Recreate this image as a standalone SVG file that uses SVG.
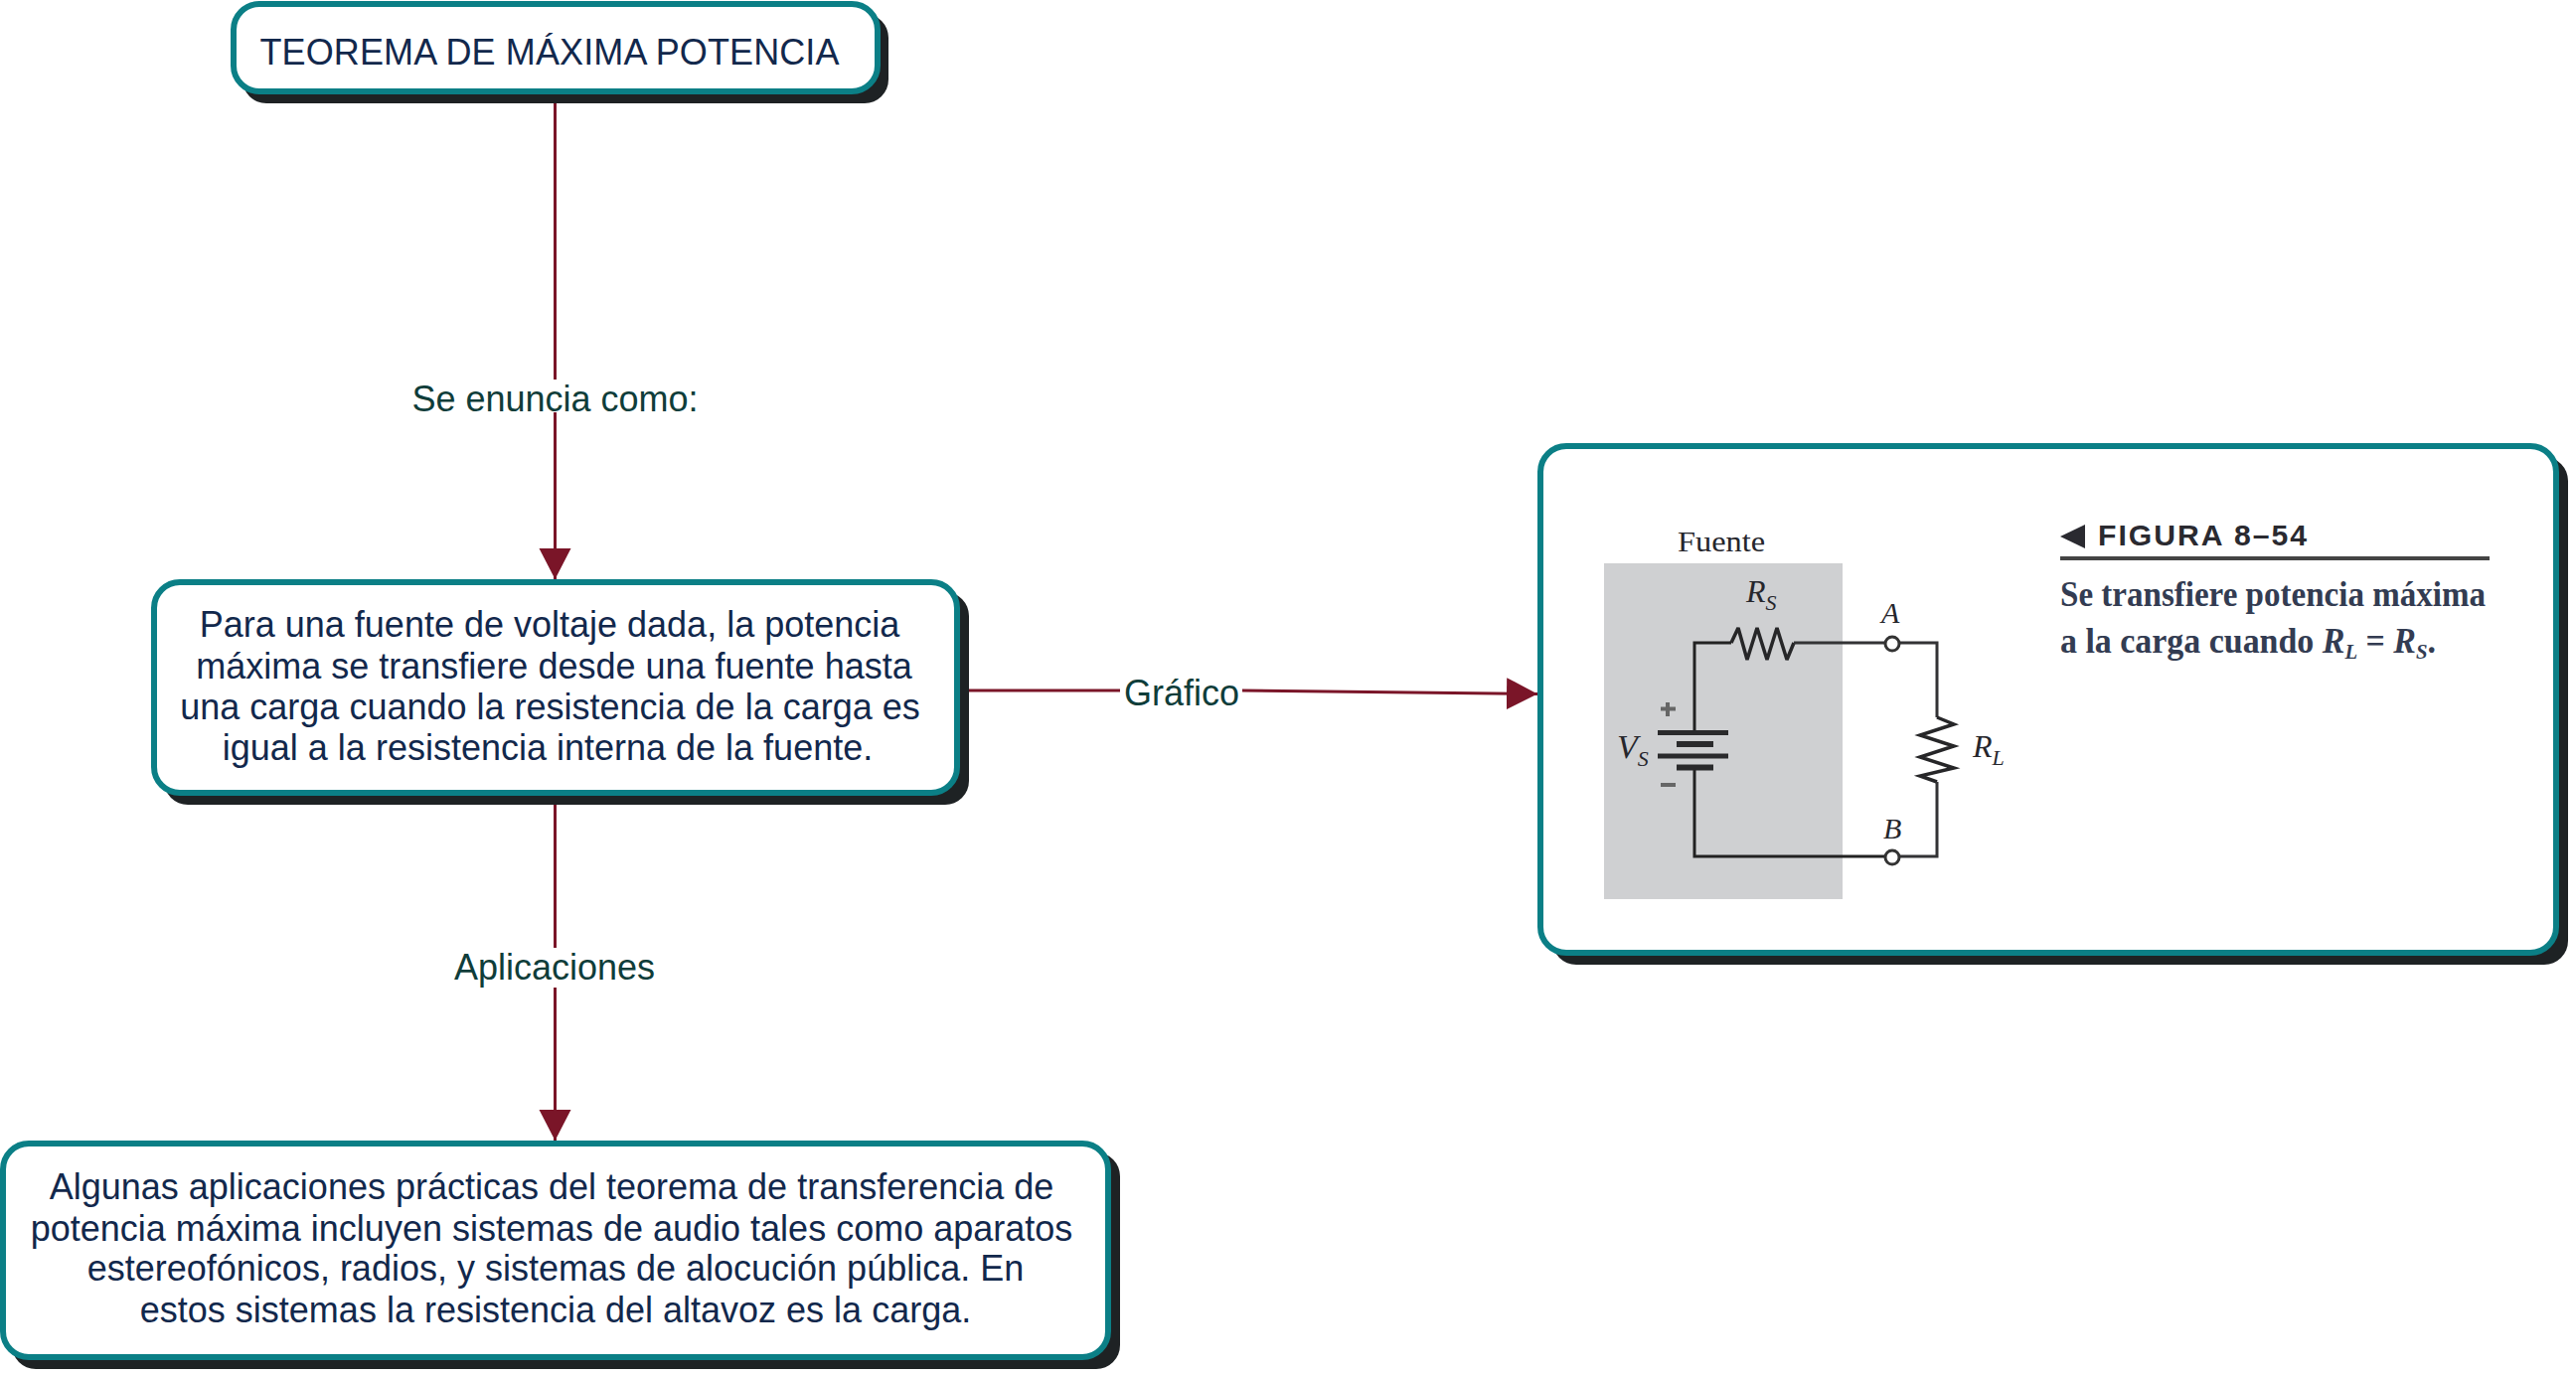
<svg xmlns="http://www.w3.org/2000/svg" width="2592" height="1385" viewBox="0 0 2592 1385">
<style>
.shadow{fill:#1e2224}
.box{fill:#fff;stroke:#0b7f86;stroke-width:6}
.t{font-family:"Liberation Sans",Arial,sans-serif;font-size:36px;fill:#12284c;text-anchor:middle}
.l{font-family:"Liberation Sans",Arial,sans-serif;font-size:36px;fill:#0f3d3a;text-anchor:middle}
.conn{fill:none;stroke:#7a1528;stroke-width:3}
.w{fill:none;stroke:#333335;stroke-width:3}
.wk{fill:none;stroke:#222;stroke-width:3}
.z{fill:none;stroke:#262628;stroke-width:3.500}
.bat{stroke:#2a2a2c;fill:none}
.s{font-family:"Liberation Serif","Times New Roman",serif;fill:#333c52}
.i{font-style:italic}
.c{font-family:"Liberation Serif","Times New Roman",serif;fill:#26262c;font-size:38px}
</style>
<defs>
<marker id="arrow" markerUnits="userSpaceOnUse" markerWidth="33" markerHeight="34" refX="31" refY="16" orient="auto"><path d="M0 0L31 16L0 32Z" fill="#7a1528"/></marker>
</defs>
<g id="connectors">
<path class="conn" d="M558.500 104V382"/>
<path class="conn" d="M558.500 415V583" marker-end="url(#arrow)"/>
<path class="conn" d="M558.500 810V954"/>
<path class="conn" d="M558.500 994V1148" marker-end="url(#arrow)"/>
<path class="conn" d="M975 695H1127"/>
<path class="conn" d="M1250 695L1547 698.500" marker-end="url(#arrow)"/>
<text class="l" x="558.500" y="413.500">Se enuncia como:</text>
<text class="l" x="558" y="985.500">Aplicaciones</text>
<text class="l" x="1189" y="709.500">Gráfico</text>
</g>
<g id="node-titulo">
<rect class="shadow" x="244" y="14" width="650" height="90" rx="24"/>
<rect class="box" x="235" y="4" width="648" height="88" rx="26"/>
<text class="t" x="553" y="65" textLength="583" lengthAdjust="spacing">TEOREMA DE MÁXIMA POTENCIA</text>
</g>
<g id="node-enunciado">
<rect class="shadow" x="165" y="596" width="810" height="214" rx="24"/>
<rect class="box" x="155" y="586" width="808" height="212" rx="26"/>
<text class="t" x="553" y="641">Para una fuente de voltaje dada, la potencia</text>
<text class="t" x="557.500" y="683">máxima se transfiere desde una fuente hasta</text>
<text class="t" x="553.500" y="724">una carga cuando la resistencia de la carga es</text>
<text class="t" x="551" y="765">igual a la resistencia interna de la fuente.</text>
</g>
<g id="node-aplicaciones">
<rect class="shadow" x="12" y="1160" width="1115" height="218" rx="24"/>
<rect class="box" x="3" y="1151" width="1112" height="215" rx="26"/>
<text class="t" x="555" y="1207">Algunas aplicaciones prácticas del teorema de transferencia de</text>
<text class="t" x="555" y="1249">potencia máxima incluyen sistemas de audio tales como aparatos</text>
<text class="t" x="559" y="1289">estereofónicos, radios, y sistemas de alocución pública. En</text>
<text class="t" x="559" y="1331">estos sistemas la resistencia del altavoz es la carga.</text>
</g>
<g id="node-grafico">
<rect class="shadow" x="1562" y="460" width="1022" height="511" rx="24"/>
<rect class="box" x="1550" y="449" width="1022" height="510" rx="26"/>
<rect x="1614" y="567" width="240" height="338" fill="#cfd0d2"/>
<path class="wk" d="M1705 737V647H1742"/>
<path class="z" stroke-linejoin="bevel" d="M1742 647L1749 632L1758 664L1768 632L1778 664L1788 632L1798 664L1805 647"/>
<path class="w" d="M1805 647H1897M1911 647H1949V722"/>
<path class="z" d="M1949 722L1966 729L1932 740L1966 751L1932 762L1966 773L1932 781L1949 787"/>
<path class="w" d="M1949 787V862H1911"/>
<path class="wk" d="M1705 772V862H1897"/>
<circle cx="1904" cy="648" r="7" fill="#fff" stroke="#333" stroke-width="3"/>
<circle cx="1904" cy="863" r="7" fill="#fff" stroke="#333" stroke-width="3"/>
<path class="bat" stroke-width="5" d="M1668 737.500H1739M1668 761H1739"/>
<path class="bat" stroke-width="6" d="M1687 749H1724M1687 772.500H1724"/>
<path d="M1678 707V721M1671 713.500H1686M1671 790H1686" stroke="#666" stroke-width="4" fill="none"/>
<text class="c" x="1688" y="555" textLength="88" lengthAdjust="spacingAndGlyphs" style="font-size:30px">Fuente</text>
<text class="c i" x="1757" y="606" style="font-size:32px">R<tspan dy="8" style="font-size:22px">S</tspan></text>
<text class="c i" x="1893" y="627" style="font-size:30px">A</text>
<text class="c i" x="1895" y="844" style="font-size:30px">B</text>
<text class="c i" x="1627" y="763" style="font-size:34px">V<tspan dy="8" style="font-size:22px">S</tspan></text>
<text class="c i" x="1985" y="762" style="font-size:32px">R<tspan dy="8" style="font-size:22px">L</tspan></text>
<path d="M2098 528V552L2073 540Z" fill="#2a2a30"/>
<text x="2111" y="549" textLength="212" lengthAdjust="spacingAndGlyphs" style="font-family:'Liberation Sans',sans-serif;font-weight:700;font-size:30px;letter-spacing:2px;fill:#2a2a30">FIGURA 8–54</text>
<rect x="2073" y="560" width="432" height="4" fill="#444"/>
<text class="s" x="2073" y="610" textLength="428" lengthAdjust="spacingAndGlyphs" style="font-size:36px;font-weight:700">Se transfiere potencia máxima</text>
<text class="s" x="2073" y="657" textLength="378" lengthAdjust="spacingAndGlyphs" style="font-size:36px;font-weight:700">a la carga cuando <tspan class="i">R</tspan><tspan class="i" dy="6" style="font-size:22px">L</tspan><tspan dy="-6"> = </tspan><tspan class="i">R</tspan><tspan class="i" dy="6" style="font-size:22px">S</tspan><tspan dy="-6">.</tspan></text>
</g>
</svg>
